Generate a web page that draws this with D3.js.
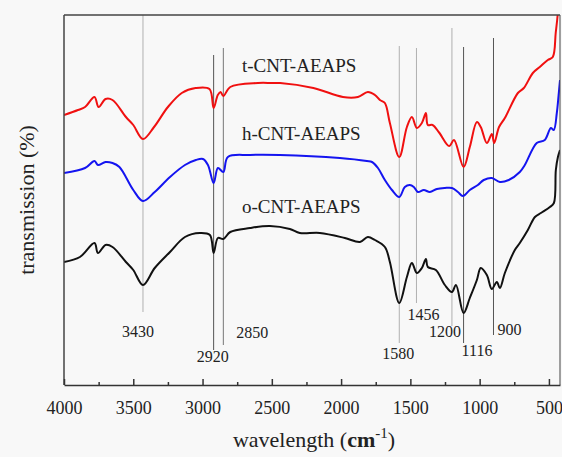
<!DOCTYPE html>
<html>
<head>
<meta charset="utf-8">
<script src="https://cdn.jsdelivr.net/npm/d3@7"></script>
<style>
  body { margin: 0; background: #f8f8f8; }
  svg { display: block; font-family: "Liberation Serif", "Times New Roman", serif; }
</style>
</head>
<body>
<svg id="chart" width="562" height="457"></svg>
<script>
// wavenumber (cm-1), transmission (arbitrary, offset)
var tCnt = [
  [4000,54],[3899,55],[3848,55.6],[3780,57.6],[3750,55.6],[3700,57.2],[3650,57],
  [3553,53.6],[3500,52],[3430,49.2],[3350,51.6],[3250,55.6],[3150,58.4],[3050,59.4],
  [2950,59.2],[2920,55.4],[2890,58],[2870,58.6],[2850,57.8],[2800,59.6],[2600,60.4],
  [2500,60.4],[2440,60.4],[2200,59.4],[1987,57.6],[1879,57.6],[1807,58.6],[1756,58],
  [1720,57],[1684,56.4],[1648,52.4],[1580,45.6],[1525,51.6],[1489,53.6],[1453,51.4],
  [1417,52.4],[1388,54.4],[1374,52],[1340,52],[1290,50.4],[1220,47.8],[1185,49],
  [1116,43.6],[1071,47.6],[1020,52.6],[992,51.6],[948,48.4],[912,50.2],[895,48.4],
  [860,51.6],[818,53.4],[724,58.4],[681,59.4],[616,62.4],[566,63.6],[508,65],
  [472,65.6],[451,70.4],[437,74],[425,80]
];
var hCnt = [
  [4000,42.4],[3848,43.4],[3780,44.8],[3755,44],[3700,44.6],[3650,44.4],[3600,43.6],
  [3500,39],[3430,36.8],[3345,38.6],[3235,41.6],[3127,44],[3048,45],[2997,45.2],
  [2961,44],[2920,40.4],[2889,43.4],[2850,42.6],[2817,45.6],[2658,46],[2442,46],
  [2009,45.4],[1814,44.8],[1777,44.6],[1734,43.4],[1684,41],[1633,39],[1580,37.6],
  [1540,39.6],[1504,40],[1475,39.6],[1446,38.6],[1403,39],[1359,38.6],[1309,39.2],
  [1251,39.4],[1200,39.4],[1157,38.6],[1121,37.8],[1071,39],[1013,40],[970,41],
  [912,41.4],[854,40.6],[790,41],[710,42.6],[674,44],[588,48.4],[530,49],[486,51.4],
  [465,51],[443,54.4],[430,58],[420,61]
];
var oCnt = [
  [4000,24.6],[3885,25.6],[3780,28.4],[3755,26.4],[3700,28],[3650,27.6],[3553,24.6],
  [3500,23],[3430,20],[3345,23.4],[3235,26.6],[3127,29.6],[3019,30.4],[2947,30],
  [2920,26.4],[2889,29.4],[2850,29.2],[2800,30.6],[2658,31.4],[2514,31.8],[2370,31.2],
  [2298,30.4],[2153,30.4],[1973,29.4],[1864,28.6],[1807,29.6],[1756,29],[1684,27.6],
  [1648,24.6],[1580,16.4],[1525,21.6],[1489,24.4],[1453,22.4],[1417,23.4],[1388,25.2],
  [1374,23.6],[1316,23],[1251,20],[1200,18.6],[1171,20],[1116,14.4],[1071,17.4],
  [1020,21],[992,23.4],[948,22],[912,19.2],[876,20.6],[854,19.4],[818,22.4],[746,27],
  [710,28.4],[652,31],[601,33.6],[558,34.4],[493,35.6],[464,36.4],[450,43],[435,45.6],
  [420,47]
];
var seriesNames = ["t-CNT-AEAPS", "h-CNT-AEAPS", "o-CNT-AEAPS"];
var seriesColors = ["#f01010", "#1414f0", "#111111"];

var peaks = [3430, 2920, 2850, 1580, 1456, 1200, 1116, 900];
var peakLabels = ["3430", "2920", "2850", "1580", "1456", "1200", "1116", "900"];
var xTicks = [4000, 3500, 3000, 2500, 2000, 1500, 1000, 500];
var xMinor = [3750, 3250, 2750, 2250, 1750, 1250, 750];

// marker line extents (y units) and label placement
var peakLayout = [
  {top: 74,   bot: 14.6, lx: -5, ly: 337, anchor: "middle", col: "#b0b0b0"},
  {top: 66,   bot: 7,    lx: -1, ly: 362, anchor: "middle", col: "#555"},
  {top: 67.4, bot: 8,    lx: 13, ly: 338, anchor: "start",  col: "#777"},
  {top: 67.8, bot: 8.4,  lx: -1, ly: 359, anchor: "middle", col: "#b0b0b0"},
  {top: 67.4, bot: 16.4, lx: 7,  ly: 320, anchor: "middle", col: "#b0b0b0"},
  {top: 71.4, bot: 11.8, lx: -7, ly: 337, anchor: "middle", col: "#b0b0b0"},
  {top: 67.6, bot: 8.4,  lx: -2, ly: 356, anchor: "start",  col: "#555"},
  {top: 69.4, bot: 10,   lx: 4,  ly: 335, anchor: "start",  col: "#555"}
];

var svg = d3.select("#chart");
var padL = 64, padR = 560, padT = 15, padB = 385;

var x = d3.scaleLinear().domain([4000, 420]).range([padL, padR]);
var y = d3.scaleLinear().domain([0, 74]).range([padB, padT]);

svg.append("defs").append("clipPath").attr("id", "plotclip")
  .append("rect").attr("x", padL).attr("y", padT)
  .attr("width", padR - padL).attr("height", padB - padT);

// peak marker lines
var mk = svg.append("g");
peaks.forEach(function(p, i) {
  var L = peakLayout[i];
  mk.append("line")
    .attr("x1", x(p)).attr("x2", x(p))
    .attr("y1", y(L.top)).attr("y2", y(L.bot))
    .attr("stroke", L.col).attr("stroke-width", 1);
  mk.append("text")
    .attr("x", x(p) + L.lx).attr("y", L.ly)
    .attr("text-anchor", L.anchor)
    .attr("font-size", 16).attr("fill", "#222")
    .text(peakLabels[i]);
});

// spectra
var line = d3.line()
  .curve(d3.curveCatmullRom.alpha(0.5))
  .x(function(d) { return x(d[0]); })
  .y(function(d) { return y(d[1]); });
var curves = svg.append("g").attr("clip-path", "url(#plotclip)");
[tCnt, hCnt, oCnt].forEach(function(s, i) {
  curves.append("path").datum(s)
    .attr("d", line)
    .attr("fill", "none")
    .attr("stroke", seriesColors[i])
    .attr("stroke-width", 2)
    .attr("stroke-linejoin", "round");
});

// series labels
var labelY = [72, 140, 213];
seriesNames.forEach(function(n, i) {
  svg.append("text").attr("x", 242).attr("y", labelY[i])
    .attr("font-size", 19).attr("fill", "#222").text(n);
});

// frame
var frame = svg.append("g").attr("stroke", "#444").attr("fill", "none");
frame.append("line").attr("x1", padL).attr("x2", padR).attr("y1", padT).attr("y2", padT).attr("stroke-width", 1.5);
frame.append("line").attr("x1", padL).attr("x2", padL).attr("y1", padT).attr("y2", padB).attr("stroke-width", 1.5);
frame.append("line").attr("x1", padR).attr("x2", padR).attr("y1", padT).attr("y2", padB).attr("stroke-width", 1);

// x axis, ticks inward
var xAxis = d3.axisBottom(x).tickValues(xTicks).tickFormat(d3.format("d"))
  .tickSizeInner(-6).tickSizeOuter(0).tickPadding(16);
var gx = svg.append("g").attr("transform", "translate(0," + padB + ")").call(xAxis);
gx.select(".domain").attr("stroke", "#333").attr("stroke-width", 1.5);
gx.selectAll(".tick line").attr("stroke", "#333").attr("stroke-width", 1.5);
gx.selectAll(".tick text").attr("font-size", 18).attr("fill", "#222")
  .attr("font-family", "Liberation Serif, serif");
var gm = svg.append("g").attr("transform", "translate(0," + padB + ")")
  .call(d3.axisBottom(x).tickValues(xMinor).tickSize(-3).tickFormat(""));
gm.select(".domain").remove();
gm.selectAll(".tick line").attr("stroke", "#333").attr("stroke-width", 1.5);

// axis titles
var xt = svg.append("text").attr("x", 314).attr("y", 447)
  .attr("text-anchor", "middle").attr("font-size", 22).attr("fill", "#222");
xt.append("tspan").text("wavelength (");
xt.append("tspan").attr("font-weight", "bold").text("cm");
xt.append("tspan").attr("font-size", 15).attr("dy", -9).text("-1");
xt.append("tspan").attr("dy", 9).text(")");

svg.append("text")
  .attr("transform", "translate(34,200) rotate(-90)")
  .attr("text-anchor", "middle").attr("font-size", 22).attr("fill", "#222")
  .text("transmission (%)");
</script>
</body>
</html>
